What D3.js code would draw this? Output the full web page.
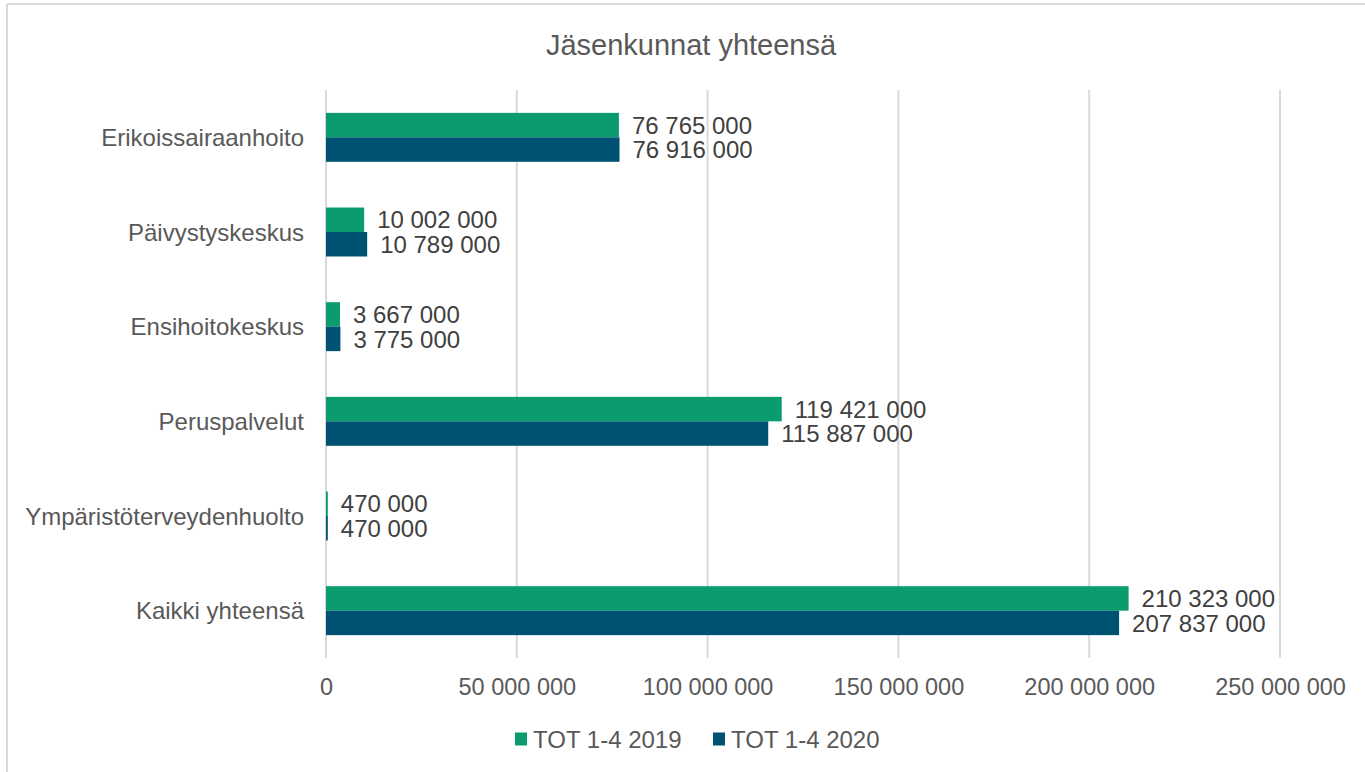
<!DOCTYPE html>
<html>
<head>
<meta charset="utf-8">
<script src="https://cdn.jsdelivr.net/npm/d3@7"></script>
<style>
  body { margin: 0; background: #fff; }
  svg text { font-family: "Liberation Sans", Arial, sans-serif; }
</style>
</head>
<body>
<div class="canvas-container"></div>
<script>

var categories = ["Erikoissairaanhoito", "Päivystyskeskus", "Ensihoitokeskus",
                  "Peruspalvelut", "Ympäristöterveydenhuolto", "Kaikki yhteensä"];
var seriesNames = ["TOT 1-4 2019", "TOT 1-4 2020"];
var values2019 = [76765000, 10002000, 3667000, 119421000, 470000, 210323000];
var values2020 = [76916000, 10789000, 3775000, 115887000, 470000, 207837000];
var xTicks = [0, 50000000, 100000000, 150000000, 200000000, 250000000];
var colors = ["#0a9b6e", "#005273"];

var width = 1365, height = 772;
var margin = {top: 90, right: 85, bottom: 114, left: 326};

var svg = d3.select("div.canvas-container")
    .append("svg")
    .attr("width", width)
    .attr("height", height);

// chart border (only top and left show in the picture)
svg.append("line").attr("x1", 7).attr("x2", width).attr("y1", 4).attr("y2", 4)
    .attr("stroke", "#d9d9d9").attr("stroke-width", 2);
svg.append("line").attr("x1", 7).attr("x2", 7).attr("y1", 4).attr("y2", height)
    .attr("stroke", "#d9d9d9").attr("stroke-width", 2);

// finnish style thousands: 1 000 000
var fmt = function (v) {
    return d3.format(",")(v).replace(/,/g, " ");
};

var x = d3.scaleLinear()
    .domain([0, 250000000])
    .range([margin.left, margin.left + 954]);

var y = d3.scaleBand()
    .domain(categories)
    .range([margin.top, height - margin.bottom])
    .paddingInner(0.483)
    .paddingOuter(0.2415);

var ySub = d3.scaleBand()
    .domain(seriesNames)
    .range([0, y.bandwidth()]);

// gridlines
svg.append("g")
    .selectAll("line")
    .data(xTicks)
    .enter()
    .append("line")
    .attr("x1", function (d) { return x(d); })
    .attr("x2", function (d) { return x(d); })
    .attr("y1", margin.top)
    .attr("y2", height - margin.bottom)
    .attr("stroke", "#d9d9d9")
    .attr("stroke-width", 2);

// x axis labels
var xAxis = svg.append("g")
    .attr("transform", "translate(0," + (height - margin.bottom) + ")")
    .call(d3.axisBottom(x).tickValues(xTicks).tickSize(0).tickPadding(20).tickFormat(fmt));
xAxis.select(".domain").remove();
xAxis.selectAll("text")
    .attr("fill", "#595959")
    .style("font-size", "23.5px");

// y axis labels
var yAxis = svg.append("g")
    .attr("transform", "translate(" + (margin.left - 22) + ",0)")
    .call(d3.axisLeft(y).tickSize(0).tickPadding(0));
yAxis.select(".domain").remove();
yAxis.selectAll("text")
    .attr("fill", "#595959")
    .attr("dy", "0.36em")
    .style("font-size", "24px");

var rows = categories.map(function (c, i) {
    return {cat: c, vals: [values2019[i], values2020[i]]};
});

var groups = svg.append("g")
    .selectAll("g")
    .data(rows)
    .enter()
    .append("g")
    .attr("transform", function (d) { return "translate(0," + y(d.cat) + ")"; });

function pairs(d) {
    return d.vals.map(function (v, j) { return {name: seriesNames[j], v: v, j: j}; });
}

groups.selectAll("rect")
    .data(pairs)
    .enter()
    .append("rect")
    .attr("x", x(0))
    .attr("y", function (d) { return ySub(d.name); })
    .attr("width", function (d) { return x(d.v) - x(0); })
    .attr("height", ySub.bandwidth())
    .attr("fill", function (d) { return colors[d.j]; });

groups.selectAll("text")
    .data(pairs)
    .enter()
    .append("text")
    .attr("x", function (d) { return x(d.v) + 13; })
    .attr("y", function (d) { return ySub(d.name) + ySub.bandwidth() / 2; })
    .attr("dy", "0.36em")
    .attr("fill", "#404040")
    .style("font-size", "24px")
    .text(function (d) { return fmt(d.v); });

// title
svg.append("text")
    .attr("x", 691)
    .attr("y", 45)
    .attr("dy", "0.36em")
    .attr("text-anchor", "middle")
    .attr("fill", "#595959")
    .style("font-size", "29px")
    .text("Jäsenkunnat yhteensä");

// legend
var legendX = [515, 713];
var legend = svg.append("g")
    .selectAll("g")
    .data(seriesNames)
    .enter()
    .append("g")
    .attr("transform", function (d, i) { return "translate(" + legendX[i] + ",739)"; });

legend.append("rect")
    .attr("x", 0)
    .attr("y", -6.5)
    .attr("width", 12)
    .attr("height", 13)
    .attr("fill", function (d, i) { return colors[i]; });

legend.append("text")
    .attr("x", 18)
    .attr("y", 0)
    .attr("dy", "0.36em")
    .attr("fill", "#595959")
    .style("font-size", "24px")
    .text(function (d) { return d; });

</script>
</body>
</html>
